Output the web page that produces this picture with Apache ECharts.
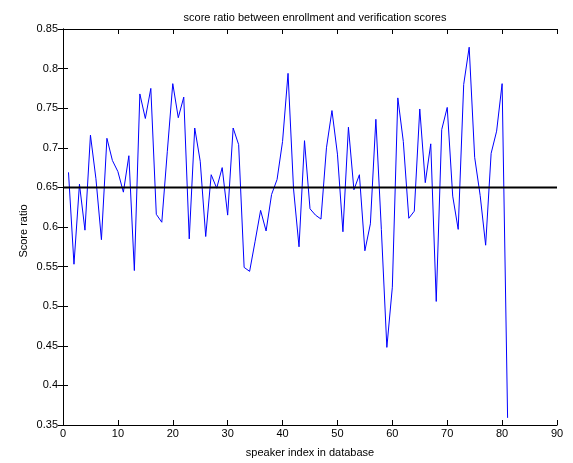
<!DOCTYPE html>
<html>
<head>
<meta charset="utf-8">
<script src="https://cdn.jsdelivr.net/npm/echarts@6/dist/echarts.min.js"></script>
<style>
  html, body { margin: 0; padding: 0; background: #fff; }
  #chart { width: 573px; height: 463px; }
</style>
</head>
<body>
<div id="chart"></div>
<script>
// speaker index 1..81
const speakerIndex = [];
for (let i = 1; i <= 81; i++) speakerIndex.push(i);

// score ratio
const scoreRatio = [
  0.669, 0.553, 0.654, 0.596, 0.716, 0.661, 0.584, 0.712, 0.684, 0.670,
  0.644, 0.690, 0.545, 0.768, 0.737, 0.775, 0.616, 0.606, 0.695, 0.781,
  0.738, 0.764, 0.585, 0.725, 0.683, 0.588, 0.666, 0.649, 0.675, 0.615,
  0.725, 0.704, 0.549, 0.544, 0.582, 0.621, 0.595, 0.641, 0.660, 0.708,
  0.794, 0.648, 0.575, 0.709, 0.623, 0.615, 0.610, 0.700, 0.747, 0.692,
  0.594, 0.726, 0.647, 0.666, 0.570, 0.604, 0.736, 0.597, 0.448, 0.524,
  0.763, 0.708, 0.611, 0.620, 0.749, 0.656, 0.705, 0.506, 0.723, 0.751,
  0.639, 0.597, 0.780, 0.827, 0.688, 0.640, 0.577, 0.693, 0.721, 0.781,
  0.359
];

const threshold = 0.65;
const xRange = [0, 90];

const font = 'Liberation Sans, Arial, sans-serif';
const axisLine = { show: true, lineStyle: { color: '#000', width: 1 } };
const tick = { show: true, inside: true, length: 5, lineStyle: { color: '#000' } };

let chart = echarts.init(document.getElementById('chart'), null, { renderer: 'canvas' });
let options = {
  animation: false,
  backgroundColor: '#fff',
  title: {
    text: 'score ratio between enrollment and verification scores',
    left: 310,
    top: 7,
    textAlign: 'center',
    textStyle: { fontFamily: font, fontSize: 11, fontWeight: 'normal', color: '#000' }
  },
  // y axis title placed by hand, the axis name would not move closer
  graphic: [
    {
      type: 'text',
      x: 24, y: 231,
      rotation: Math.PI / 2,
      style: {
        text: 'Score ratio', fontFamily: font, fontSize: 11, fill: '#000',
        align: 'center', verticalAlign: 'middle'
      }
    }
  ],
  grid: { left: 63, right: 16, top: 29, bottom: 29 },
  xAxis: [
    {
      type: 'value', min: 0, max: 90, interval: 10,
      name: 'speaker index in database', nameLocation: 'middle', nameGap: 22,
      nameTextStyle: { fontFamily: font, fontSize: 11, color: '#000' },
      axisLine: axisLine, axisTick: tick,
      axisLabel: { fontFamily: font, fontSize: 11, color: '#000', margin: 3 },
      splitLine: { show: false }
    },
    {
      type: 'value', min: 0, max: 90, interval: 10, position: 'top',
      axisLine: axisLine, axisTick: tick, axisLabel: { show: false }, splitLine: { show: false }
    }
  ],
  yAxis: [
    {
      type: 'value', min: 0.35, max: 0.85, interval: 0.05,
      axisLine: axisLine, axisTick: tick,
      axisLabel: { fontFamily: font, fontSize: 11, color: '#000', margin: 5,
        formatter: v => String(+v.toFixed(2)) },
      splitLine: { show: false }
    },
    {
      type: 'value', min: 0.35, max: 0.85, interval: 0.05, position: 'right',
      axisLine: axisLine, axisTick: tick, axisLabel: { show: false }, splitLine: { show: false }
    }
  ],
  series: [
    {
      name: 'score ratio',
      type: 'line',
      data: speakerIndex.map((x, i) => [x, scoreRatio[i]]),
      showSymbol: false,
      lineStyle: { color: '#0000ff', width: 1 },
      z: 2
    },
    {
      name: 'threshold',
      type: 'line',
      data: xRange.map(x => [x, threshold]),
      showSymbol: false,
      lineStyle: { color: '#000', width: 2 },
      z: 3
    }
  ]
};
chart.setOption(options);
</script>
</body>
</html>
